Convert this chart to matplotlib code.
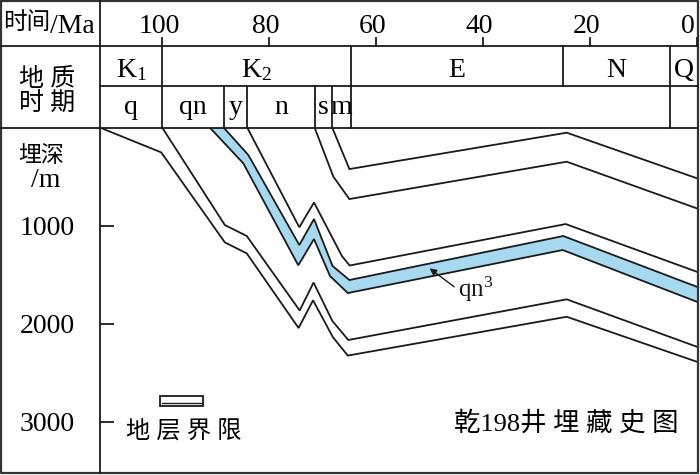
import matplotlib
matplotlib.use('Agg')
import matplotlib.pyplot as plt
from matplotlib import transforms
from matplotlib.patches import Rectangle

plt.rcParams['font.family'] = ['Liberation Serif', 'Noto Sans CJK SC', 'DejaVu Sans']
plt.rcParams['mathtext.fontset'] = 'custom'
plt.rcParams['mathtext.rm'] = 'Liberation Serif'
plt.rcParams['mathtext.it'] = 'Liberation Serif:italic'

# ---------------- data ----------------
time_ticks = [100, 80, 60, 40, 20, 0]
depth_ticks = [1000, 2000, 3000]
period_names = ['K$_{\\mathrm{1}}$', 'K$_{\\mathrm{2}}$', 'E', 'N', 'Q']
period_bounds = [100, 64.7, 25, 5]          # Ma
stage_names = ['q', 'qn', 'y', 'n', 's', 'm']
stage_bounds = [100, 88.5, 84.1, 71.5, 68.2, 64.7]  # Ma

# burial curves (age Ma, depth m)
l1_age = [111.6, 100.2, 88.3, 84.2, 74.5, 71.8, 68.1, 65.3, 24.35, 0]
l1_depth = [0, 252, 1170, 1282, 2044, 1761, 2136, 2325, 1929, 2388]
u1_age = [100, 88.3, 84.2, 74.3, 71.7, 68.2, 65.2, 24.35, 0]
u1_depth = [0, 993, 1105, 1865, 1580, 1971, 2166, 1751, 2235]
qn3_base_age = [91.1, 84.85, 74.56, 71.62, 68.63, 65.3, 25.1, 0]
qn3_base_depth = [0, 363, 1404, 1136, 1513, 1687, 1248, 1776]
qn3_top_age = [88.5, 83.9, 74.37, 71.62, 68.15, 65.0, 25.0, 0]
qn3_top_depth = [0, 279, 1197, 932, 1411, 1554, 1105, 1623]
m_age = [84.1, 74.37, 71.62, 66.4, 64.95, 24.54, 0]
m_depth = [0, 1016, 763, 1309, 1406, 983, 1470]
t2_age = [71.5, 68.0, 65.0, 24.35, 0]
t2_depth = [0, 500, 728, 347, 823]
t1_age = [68.2, 65.0, 24.35, 0]
t1_depth = [0, 422, 51, 516]

label_qn3 = 'qn$^{\\mathrm{3}}$'
arrow_tip = (50.0, 1435)
arrow_tail = (45.4, 1623)
title = '乾198井 埋 藏 史 图'

LAT = 20
CJK = 16.5
LC = '#1a1a1a'
BLUE = '#a6d9ef'

W, H = 700, 475
fig = plt.figure(figsize=(7, 4.75), dpi=100)

def fr(x0, y0, x1, y1):
    return [x0 / W, 1 - y1 / H, (x1 - x0) / W, (y1 - y0) / H]

# main burial axes
ax = fig.add_axes(fr(100, 127.7, 698, 473))
ax.set_xlim(111.65, -0.21)
ax.set_ylim(3523, 0)
for s in ax.spines.values():
    s.set_visible(False)
ax.set_xticks([])
ax.set_yticks(depth_ticks)
ax.set_yticklabels([str(d) for d in depth_ticks], fontsize=LAT)
ax.tick_params(axis='y', direction='in', length=10, width=1.3, color=LC, pad=18)

# qn3 band
ax.fill(qn3_top_age + qn3_base_age[::-1], qn3_top_depth + qn3_base_depth[::-1],
        facecolor=BLUE, edgecolor='none', zorder=1)
for a, d in [(l1_age, l1_depth), (u1_age, u1_depth), (qn3_base_age, qn3_base_depth),
             (qn3_top_age, qn3_top_depth), (m_age, m_depth), (t2_age, t2_depth),
             (t1_age, t1_depth)]:
    ax.plot(a, d, color=LC, lw=1.3, zorder=2, solid_joinstyle='miter')

ax.annotate('', xy=arrow_tip, xytext=arrow_tail,
            arrowprops=dict(arrowstyle='-|>', color=LC, lw=1.0, mutation_scale=10,
                            shrinkA=0, shrinkB=0))
ax.text(44.7, 1728, label_qn3, fontsize=18, ha='left', va='baseline', color=LC)

# overlay in pixel coordinates
ov = fig.add_axes([0, 0, 1, 1])
ov.set_xlim(0, W)
ov.set_ylim(H, 0)
ov.axis('off')
ov.patch.set_alpha(0)
bt = transforms.blended_transform_factory(ax.transData, ov.transData)

lw = 1.3
ov.plot([1, 698, 698, 1, 1], [1, 1, 473, 473, 1], color='#333333', lw=1.6)
ov.plot([0, 698], [45.7, 45.7], color=LC, lw=lw)
ov.plot([100, 698], [85.7, 85.7], color=LC, lw=lw)
ov.plot([0, 698], [127.7, 127.7], color=LC, lw=lw)
ov.plot([100, 100], [0, 473], color=LC, lw=lw)

for b in period_bounds:
    ov.plot([b, b], [45.7, 85.7], color=LC, lw=lw, transform=bt)
for b in stage_bounds + [period_bounds[-1]]:
    ov.plot([b, b], [85.7, 127.7], color=LC, lw=lw, transform=bt)
for t in time_ticks:
    ov.plot([t, t], [38, 45.7], color=LC, lw=lw, transform=bt)
    if t == 0:
        ov.text(t, 33, str(t), fontsize=LAT, ha='right', va='baseline',
                transform=transforms.offset_copy(bt, fig=fig, x=-1.5, units='points'))
    else:
        ov.text(t, 33, str(t), fontsize=LAT, ha='center', va='baseline',
                transform=transforms.offset_copy(bt, fig=fig, x=-2.5, units='points'))

x0, x1 = ax.get_xlim()
pedges = [x0] + period_bounds + [x1]
for name, a, b in zip(period_names, pedges[:-1], pedges[1:]):
    ov.text((a + b) / 2, 77, name, fontsize=LAT, ha='center', va='baseline', transform=bt)
sedges = [x0] + stage_bounds
for name, a, b in zip(stage_names, sedges[:-1], sedges[1:]):
    ov.text((a + b) / 2, 114, name, fontsize=LAT, ha='center', va='baseline', transform=bt)

ov.text(50, 23, '时间', fontsize=17, ha='right', va='center')
ov.text(50, 33, '/Ma', fontsize=LAT, ha='left', va='baseline')
ov.text(47, 79, '地 质', fontsize=18, ha='center', va='center')
ov.text(47, 104, '时 期', fontsize=18, ha='center', va='center')
ov.text(41, 156, '埋深', fontsize=CJK, ha='center', va='center')
ov.text(46, 187, '/m', fontsize=LAT, ha='center', va='baseline')

ov.add_patch(Rectangle((160, 396), 43, 10, fill=False, ec=LC, lw=1.3))
ov.plot([162, 201], [402.5, 402.5], color=LC, lw=1.0)
ov.text(183.5, 432, '地 层 界 限', fontsize=17.5, ha='center', va='center')
ov.text(566, 423, title, fontsize=LAT - 1, ha='center', va='center')

fig.savefig('out.png', dpi=100)
